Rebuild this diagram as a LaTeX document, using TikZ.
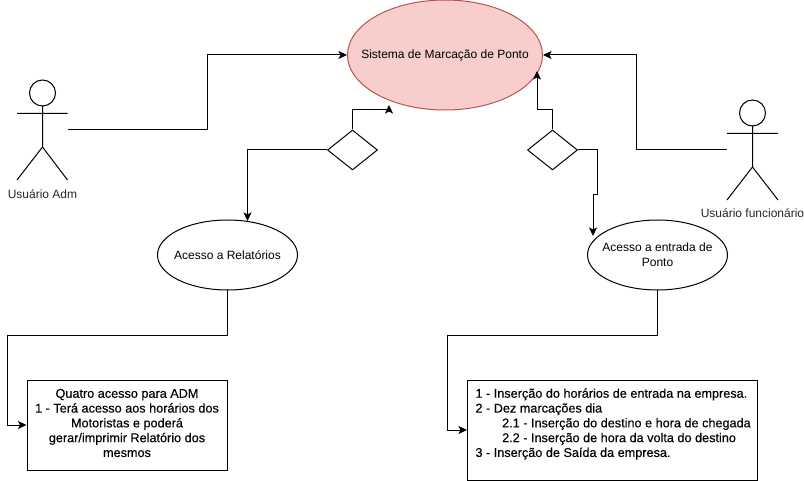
\documentclass[tikz,border=0pt]{standalone}
\usepackage{fontspec}
\setmainfont{Liberation Sans}
\newfontfamily\notefont[FakeBold=0.3]{Liberation Sans}
\usetikzlibrary{shapes.geometric,arrows.meta}
\definecolor{ovalfill}{HTML}{F8CECC}
\definecolor{ovaldraw}{HTML}{B85450}
\begin{document}
\begin{tikzpicture}[x=0.75pt,y=-0.75pt,line width=0.75pt,font=\fontsize{9pt}{11.1pt}\selectfont,
% common options for the ovals:
oval/.style = {ellipse, draw, align=center, inner sep=0, minimum width=105pt, minimum height=52.5pt},
% common options for the choices:
choice/.style = {diamond, draw, minimum width=37.5pt, minimum height=30pt, inner sep=0},
% common options for the text boxes:
noteblock/.style = {rectangle, draw, inner sep=0},
notetext/.style = {inner sep=0, font=\notefont\fontsize{9.5pt}{11.1pt}\selectfont},
actorlabel/.style = {rectangle, inner sep=0, text=black!85},
link/.style = {draw, -{Stealth[length=6.4pt,width=6pt,inset=1.5pt]}}]
\useasboundingbox (0,0) rectangle (804,481);
\node[oval,fill=ovalfill,draw=ovaldraw,minimum width=146.25pt,minimum height=82.5pt,label={center:Sistema de Marcação de Ponto}] (sistema) at (445,55) {};
\node[oval,label={center:Acesso a Relatórios}] (relatorios) at (227.5,255) {};
\node[oval,label={[align=center]center:Acesso a entrada de\\ Ponto}] (entrada) at (657.5,255) {};
\node[choice] (choiceadm) at (352.5,150) {};
\node[choice] (choicefunc) at (552.5,150) {};
\node[noteblock,minimum width=150pt,minimum height=67.5pt] (noteadm) at (127,425) {};
\node[notetext,align=center] (noteadmtext) at (127,423) {Quatro acesso para ADM\\ 1 - Terá acesso aos horários dos\\ Motoristas e poderá\\ gerar/imprimir Relatório dos\\ mesmos};
\node[noteblock,minimum width=217.5pt,minimum height=75pt] (notefunc) at (612.5,430) {};
\node[notetext,anchor=west,align=left] (notefunctext) at (475,424) {1 - Inserção do horários de entrada na empresa.\\ 2 - Dez marcações dia\\ \hspace*{20pt}2.1 - Inserção do destino e hora de chegada\\ \hspace*{20pt}2.2 - Inserção de hora da volta do destino\\ 3 - Inserção de Saída da empresa.};
% actors
\coordinate (adm) at (67.5,130);
\draw (42.5,93) circle[radius=13] (17,113.5) -- (67.5,113.5) (42.5,106) -- (42.5,147) (17,180) -- (42.5,147) -- (67.5,180);
\node[actorlabel] (admlabel) at (42.5,194) {Usuário Adm};
\coordinate (func) at (727,150);
\draw (752.5,113) circle[radius=13] (727,133.5) -- (778,133.5) (752.5,126) -- (752.5,167) (727,200) -- (752.5,167) -- (778,200);
\node[actorlabel] (funclabel) at (752.5,213) {Usuário funcionário};
% connectors
\coordinate (tipadm) at (389,105);
\coordinate (tipfunc) at (537,71);
\coordinate (tiprel) at (247.5,221);
\coordinate (tipent) at (593,236);
\draw[link] (adm) -| (207,55) -- (sistema.west);
\draw[link] (func) -| (636,55) -- (sistema.east);
\draw[link] (choiceadm.north) |- (389,110) -- (tipadm);
\draw[link] (choicefunc.north) |- (537,110) -- (tipfunc);
\draw[link] (choiceadm.west) -| (tiprel);
\draw[link] (choicefunc.east) -| (597,195) -| (tipent);
\draw[link] (relatorios.south) |- (7,335) |- (noteadm.west);
\draw[link] (entrada.south) |- (447,335) |- (notefunc.west);
\end{tikzpicture}
\end{document}
